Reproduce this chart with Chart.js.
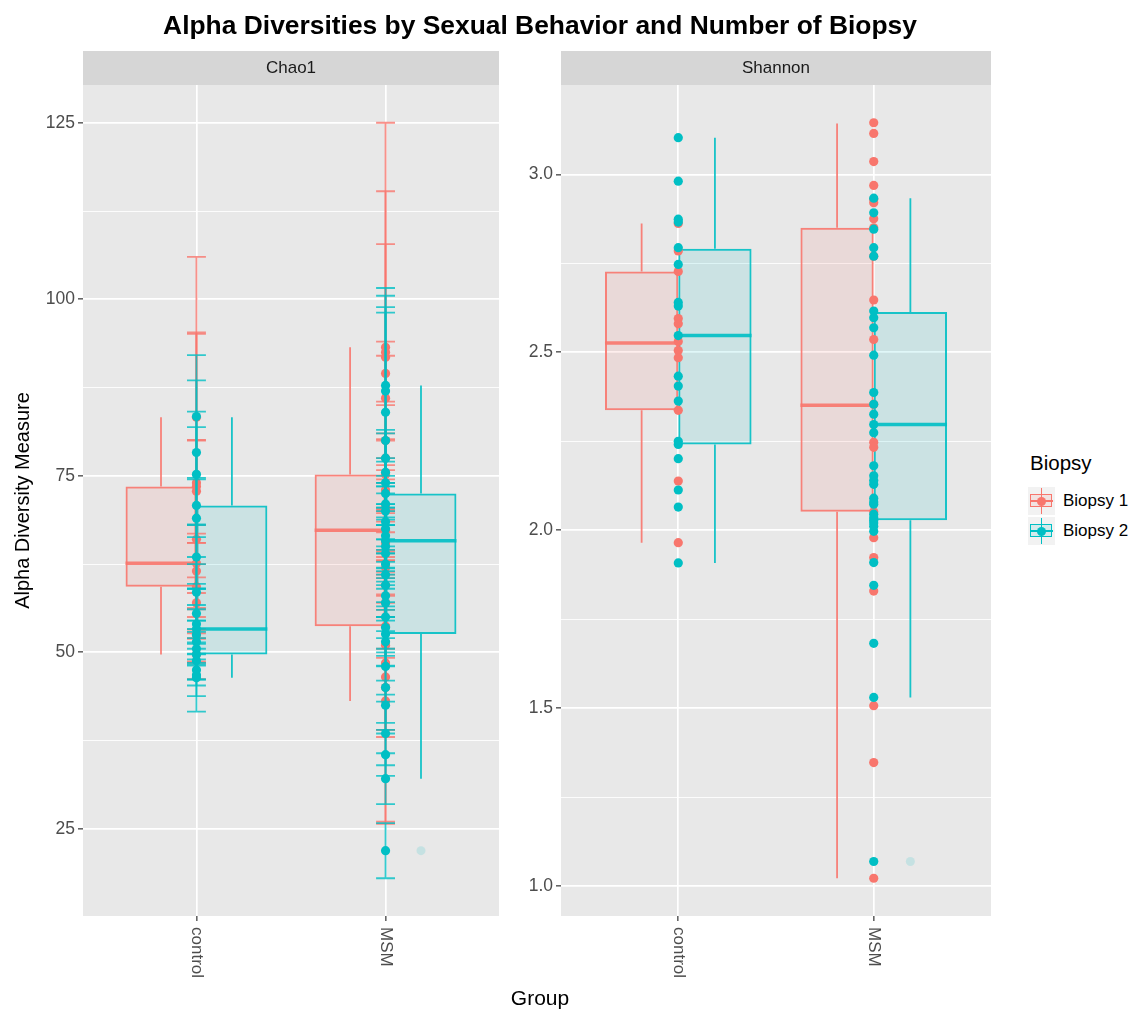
<!DOCTYPE html>
<html>
<head>
<meta charset="utf-8">
<script src="https://cdn.jsdelivr.net/npm/chart.js@4.4.0/dist/chart.umd.min.js"></script>
<style>
  body { margin: 0; background: #fff; font-family: "Liberation Sans", Arial, Helvetica, sans-serif; }
  #page { position: relative; width: 1134px; height: 1013px; overflow: hidden; }
  canvas { position: absolute; top: 0; }
  .txt { position: absolute; white-space: nowrap; }
  #title { left: 0; width: 1080px; top: 10px; line-height: 30px; text-align: center; font-weight: bold; font-size: 26.4px; color: #000; }
  #xtitle { left: 0; width: 1080px; top: 986px; line-height: 24px; text-align: center; font-size: 21px; color: #000; }
  #legTitle { left: 1030px; top: 451px; line-height: 24px; font-size: 20.5px; color: #000; }
  .key { position: absolute; left: 1028px; width: 27px; height: 28px; background: #F2F2F2; }
  .key div { position: absolute; }
  .key .wh { left: 12.75px; width: 1.5px; top: 1px; height: 26px; }
  .key .bx { left: 2px; top: 7px; width: 20px; height: 11px; border: 1.5px solid; }
  .key .md { left: 2px; width: 23px; top: 12.75px; height: 2.5px; }
  .key .pt { left: 9px; top: 9.5px; width: 9px; height: 9px; border-radius: 50%; }
  .legLab { position: absolute; left: 1063px; line-height: 20px; font-size: 17px; color: #000; }
</style>
</head>
<body>
<div id="page">
  <canvas id="chao" width="520" height="1013" style="left:0px"></canvas>
  <canvas id="shannon" width="515" height="1013" style="left:505px"></canvas>
  <div class="txt" id="title">Alpha Diversities by Sexual Behavior and Number of Biopsy</div>
  <div class="txt" id="xtitle">Group</div>
  <div class="txt" id="legTitle">Biopsy</div>
  <div id="legend"></div>
</div>
<script>
const groups = ['control', 'MSM'];
const biopsies = ['Biopsy 1', 'Biopsy 2'];
const colors = ['#F8766D', '#00BFC4'];

// Chao1 estimates and their standard errors, per group and biopsy
const chaoCtrlB1 = [83.3, 74.0, 73.5, 72.8, 66.0, 62.6, 61.5, 59.3, 57.0, 52.5, 49.7];
const seCtrlB1   = [22.7, 21.3, 21.6, 7.3, 14.0, 4.2, 6.5, 3.2, 8.5, 3.8, 3.5];
const chaoMsmB1  = [93.2, 92.5, 91.8, 89.5, 86.0, 80.0, 77.5, 75.2, 73.0, 70.5, 67.3, 65.5, 62.0, 59.5, 57.0, 53.7, 51.0, 48.5, 46.5, 45.0, 43.1];
const seMsmB1    = [31.8, 22.8, 16.0, 4.5, 6.0, 5.5, 3.5, 5.0, 4.5, 6.0, 3.0, 4.5, 5.0, 3.5, 6.5, 4.5, 12.0, 9.5, 8.5, 19.0, 17.4];
const chaoCtrlB2 = [83.4, 78.3, 75.2, 70.8, 69.0, 63.5, 58.5, 55.5, 54.0, 53.3, 52.5, 51.5, 50.5, 49.7, 48.8, 47.5, 46.8, 46.4];
const seCtrlB2   = [8.7, 10.2, 8.9, 11.1, 5.5, 4.5, 4.0, 3.5, 5.0, 2.8, 4.2, 3.0, 2.4, 3.6, 2.6, 2.2, 3.0, 4.8];
const chaoMsmB2  = [87.8, 87.0, 84.0, 80.0, 77.5, 75.5, 74.0, 72.5, 71.0, 70.0, 68.5, 67.5, 66.5, 65.8, 65.0, 64.0, 62.5, 61.0, 59.5, 58.0, 57.0, 55.0, 53.5, 52.6, 51.5, 48.0, 45.0, 42.5, 38.5, 35.5, 32.1, 21.9];
const seMsmB2    = [13.8, 13.5, 14.9, 18.1, 4.0, 5.5, 3.5, 4.5, 3.0, 5.0, 4.0, 3.5, 4.5, 3.0, 5.5, 4.0, 3.5, 5.0, 4.5, 3.5, 4.0, 5.5, 3.0, 4.5, 3.5, 4.0, 5.0, 3.5, 4.5, 3.0, 3.6, 3.9];

// Shannon index
const shanCtrlB1 = [2.862, 2.785, 2.727, 2.595, 2.580, 2.530, 2.505, 2.485, 2.337, 2.138, 1.965];
const shanMsmB1  = [3.145, 3.115, 3.036, 2.969, 2.930, 2.920, 2.875, 2.850, 2.770, 2.647, 2.536, 2.354, 2.247, 2.233, 2.052, 1.979, 1.923, 1.829, 1.507, 1.347, 1.022];
const shanCtrlB2 = [3.103, 2.981, 2.874, 2.866, 2.794, 2.747, 2.640, 2.630, 2.547, 2.433, 2.405, 2.363, 2.250, 2.241, 2.201, 2.113, 2.065, 1.908];
const shanMsmB2  = [2.933, 2.892, 2.846, 2.794, 2.770, 2.616, 2.597, 2.569, 2.492, 2.387, 2.354, 2.326, 2.297, 2.274, 2.181, 2.153, 2.140, 2.129, 2.090, 2.079, 2.073, 2.045, 2.035, 2.028, 2.020, 2.011, 1.997, 1.909, 1.845, 1.682, 1.530, 1.069];

// box stats per group: [lower whisker, q1, median, q3, upper whisker]
const chaoBoxB1 = [[49.7, 59.3, 62.6, 73.5, 83.3], [43.1, 53.7, 67.3, 75.2, 93.2]];
const chaoBoxB2 = [[46.4, 49.7, 53.3, 70.8, 83.3], [32.1, 52.6, 65.8, 72.5, 87.8]];
const shanBoxB1 = [[1.965, 2.337, 2.526, 2.727, 2.862], [1.022, 2.052, 2.351, 2.850, 3.143]];
const shanBoxB2 = [[1.908, 2.241, 2.547, 2.791, 3.103], [1.530, 2.028, 2.297, 2.613, 2.933]];
const chaoOutB1 = [[], []];
const chaoOutB2 = [[], [21.9]];
const shanOutB1 = [[], []];
const shanOutB2 = [[], [1.069]];

// axis ticks
const chaoMajor = [25, 50, 75, 100, 125];
const chaoMinor = [37.5, 62.5, 87.5, 112.5];
const shanMajor = [1.0, 1.5, 2.0, 2.5, 3.0];
const shanMinor = [1.25, 1.75, 2.25, 2.75];

const FONT = '"Liberation Sans", Arial, Helvetica, sans-serif';
const capWidth = 0.1;

function rgba(hex, a) {
  const n = parseInt(hex.slice(1), 16);
  return 'rgba(' + (n >> 16) + ',' + ((n >> 8) & 255) + ',' + (n & 255) + ',' + a + ')';
}

const panelPlugin = {
  id: 'panel',
  beforeDraw(chart, args, opts) {
    const {ctx, chartArea: a} = chart;
    ctx.save();
    ctx.fillStyle = '#E8E8E8';
    ctx.fillRect(a.left, a.top, a.right - a.left, a.bottom - a.top);
    ctx.fillStyle = '#D6D6D6';
    ctx.fillRect(a.left, a.top - 34, a.right - a.left, 34);
    ctx.fillStyle = '#1A1A1A';
    ctx.font = '17px ' + FONT;
    ctx.textAlign = 'center';
    ctx.textBaseline = 'middle';
    ctx.fillText(opts.strip, (a.left + a.right) / 2, a.top - 17);
    ctx.restore();
  },
  afterDraw(chart) {
    const {ctx, chartArea: a, scales: {x}} = chart;
    ctx.save();
    ctx.fillStyle = '#4D4D4D';
    ctx.font = '17px ' + FONT;
    ctx.textAlign = 'left';
    ctx.textBaseline = 'middle';
    groups.forEach((g, i) => {
      ctx.save();
      ctx.translate(x.getPixelForValue(i + 1), a.bottom + 11);
      ctx.rotate(Math.PI / 2);
      ctx.fillText(g, 0, 0);
      ctx.restore();
    });
    ctx.restore();
  }
};

const boxPlugin = {
  id: 'boxParts',
  afterDatasetDraw(chart, args) {
    const ds = chart.data.datasets[args.index];
    if (!ds.stats) return;
    const {ctx, scales: {y}} = chart;
    ctx.save();
    args.meta.data.forEach((bar, g) => {
      const s = ds.stats[g];
      const half = bar.width / 2;
      ctx.strokeStyle = rgba(ds.tone, 0.9);
      ctx.lineWidth = 1.8;
      ctx.beginPath();
      ctx.moveTo(bar.x, y.getPixelForValue(s[3]));
      ctx.lineTo(bar.x, y.getPixelForValue(s[4]));
      ctx.moveTo(bar.x, y.getPixelForValue(s[1]));
      ctx.lineTo(bar.x, y.getPixelForValue(s[0]));
      ctx.stroke();
      ctx.lineWidth = 3.5;
      ctx.beginPath();
      ctx.moveTo(bar.x - half, y.getPixelForValue(s[2]));
      ctx.lineTo(bar.x + half, y.getPixelForValue(s[2]));
      ctx.stroke();
      ctx.fillStyle = rgba(ds.tone, 0.15);
      ds.outliers[g].forEach(v => {
        ctx.beginPath();
        ctx.arc(bar.x, y.getPixelForValue(v), 4.5, 0, Math.PI * 2);
        ctx.fill();
      });
    });
    ctx.restore();
  }
};

const errorBarPlugin = {
  id: 'errorBars',
  beforeDatasetDraw(chart, args) {
    const ds = chart.data.datasets[args.index];
    if (!ds.errors) return;
    const {ctx, scales: {x, y}} = chart;
    ctx.save();
    ctx.strokeStyle = rgba(ds.tone, 0.8);
    ctx.lineWidth = 1.8;
    ds.data.forEach((p, i) => {
      const e = ds.errors[i];
      const cx = x.getPixelForValue(p.x);
      const x0 = x.getPixelForValue(p.x - capWidth / 2);
      const x1 = x.getPixelForValue(p.x + capWidth / 2);
      const yt = y.getPixelForValue(p.y + e);
      const yb = y.getPixelForValue(p.y - e);
      ctx.beginPath();
      ctx.moveTo(cx, yt); ctx.lineTo(cx, yb);
      ctx.moveTo(x0, yt); ctx.lineTo(x1, yt);
      ctx.moveTo(x0, yb); ctx.lineTo(x1, yb);
      ctx.stroke();
    });
    ctx.restore();
  }
};

function makePanel(id, cfg) {
  const all = [];
  cfg.pts.forEach((bio, b) => bio.forEach((vals, g) => vals.forEach((v, k) => {
    const e = cfg.se ? cfg.se[b][g][k] : 0;
    all.push(v - e, v + e);
  })));
  cfg.boxes.forEach(bx => bx.forEach(s => all.push(s[0], s[4])));
  const lo = Math.min(...all), hi = Math.max(...all), pad = (hi - lo) * 0.05;

  const datasets = [];
  cfg.boxes.forEach((bx, b) => datasets.push({
    type: 'bar',
    label: biopsies[b],
    order: 3,
    stack: 'b' + b,
    data: bx.map((s, g) => ({x: g + 1, y: [s[1], s[3]]})),
    backgroundColor: rgba(colors[b], 0.12),
    borderColor: rgba(colors[b], 0.9),
    borderWidth: 2,
    borderSkipped: false,
    categoryPercentage: 0.75,
    barPercentage: 1,
    stats: bx,
    outliers: cfg.outs[b],
    tone: colors[b]
  }));
  cfg.pts.forEach((bio, b) => datasets.push({
    type: 'scatter',
    label: biopsies[b],
    order: 1 - b,
    data: bio.flatMap((vals, g) => vals.map(v => ({x: g + 1, y: v}))),
    errors: cfg.se ? cfg.se[b].flat() : null,
    pointRadius: 4.6,
    pointBackgroundColor: colors[b],
    pointBorderWidth: 0,
    tone: colors[b]
  }));

  const isMajor = v => cfg.majors.includes(v);
  return new Chart(document.getElementById(id), {
    type: 'bar',
    data: {datasets},
    plugins: [panelPlugin, boxPlugin, errorBarPlugin],
    options: {
      responsive: false,
      animation: false,
      events: [],
      layout: {padding: {top: 85, right: cfg.padRight, left: 0, bottom: 0}},
      plugins: {
        legend: {display: false},
        tooltip: {enabled: false},
        panel: {strip: cfg.strip}
      },
      scales: {
        x: {
          type: 'linear',
          offset: false,
          min: 0.4,
          max: groups.length + 0.6,
          afterBuildTicks: s => { s.ticks = groups.map((g, i) => ({value: i + 1})); },
          afterFit: s => { s.height = 97; },
          ticks: {display: false},
          grid: {offset: false, color: '#FFFFFF', lineWidth: 1.7, tickColor: '#333333', tickWidth: 1.2, tickLength: 5},
          border: {display: false}
        },
        y: {
          type: 'linear',
          min: lo - pad,
          max: hi + pad,
          afterBuildTicks: s => {
            s.ticks = cfg.majors.concat(cfg.minors)
              .filter(v => v >= s.min && v <= s.max)
              .sort((a, b) => a - b)
              .map(v => ({value: v}));
          },
          afterFit: s => { s.width = cfg.axisWidth; },
          ticks: {
            autoSkip: false,
            color: '#4D4D4D',
            font: {family: FONT, size: 17.5},
            padding: 3,
            callback: v => isMajor(v) ? v.toFixed(cfg.decimals) : ''
          },
          grid: {
            color: '#FFFFFF',
            lineWidth: c => isMajor(c.tick.value) ? 1.7 : 0.85,
            tickColor: c => isMajor(c.tick.value) ? '#333333' : 'rgba(0,0,0,0)',
            tickWidth: 1.2,
            tickLength: 5
          },
          border: {display: false},
          title: {
            display: !!cfg.yTitle,
            text: cfg.yTitle || '',
            color: '#000000',
            font: {family: FONT, size: 20},
            padding: {top: 11, bottom: 0}
          }
        }
      }
    }
  });
}

makePanel('chao', {
  strip: 'Chao1',
  pts: [[chaoCtrlB1, chaoMsmB1], [chaoCtrlB2, chaoMsmB2]],
  se: [[seCtrlB1, seMsmB1], [seCtrlB2, seMsmB2]],
  boxes: [chaoBoxB1, chaoBoxB2],
  outs: [chaoOutB1, chaoOutB2],
  majors: chaoMajor, minors: chaoMinor, decimals: 0,
  yTitle: 'Alpha Diversity Measure',
  axisWidth: 83, padRight: 21
});

makePanel('shannon', {
  strip: 'Shannon',
  pts: [[shanCtrlB1, shanMsmB1], [shanCtrlB2, shanMsmB2]],
  se: null,
  boxes: [shanBoxB1, shanBoxB2],
  outs: [shanOutB1, shanOutB2],
  majors: shanMajor, minors: shanMinor, decimals: 1,
  yTitle: null,
  axisWidth: 56, padRight: 29
});

// legend keys
const legend = document.getElementById('legend');
biopsies.forEach((name, b) => {
  const top = 487 + b * 30;
  const key = document.createElement('div');
  key.className = 'key';
  key.style.top = top + 'px';
  key.innerHTML =
    '<div class="wh" style="background:' + colors[b] + '"></div>' +
    '<div class="bx" style="border-color:' + colors[b] + ';background:' + rgba(colors[b], 0.12) + '"></div>' +
    '<div class="md" style="background:' + colors[b] + '"></div>' +
    '<div class="pt" style="background:' + colors[b] + '"></div>';
  legend.appendChild(key);
  const lab = document.createElement('div');
  lab.className = 'legLab';
  lab.style.top = (top + 4) + 'px';
  lab.textContent = name;
  legend.appendChild(lab);
});
</script>
</body>
</html>
